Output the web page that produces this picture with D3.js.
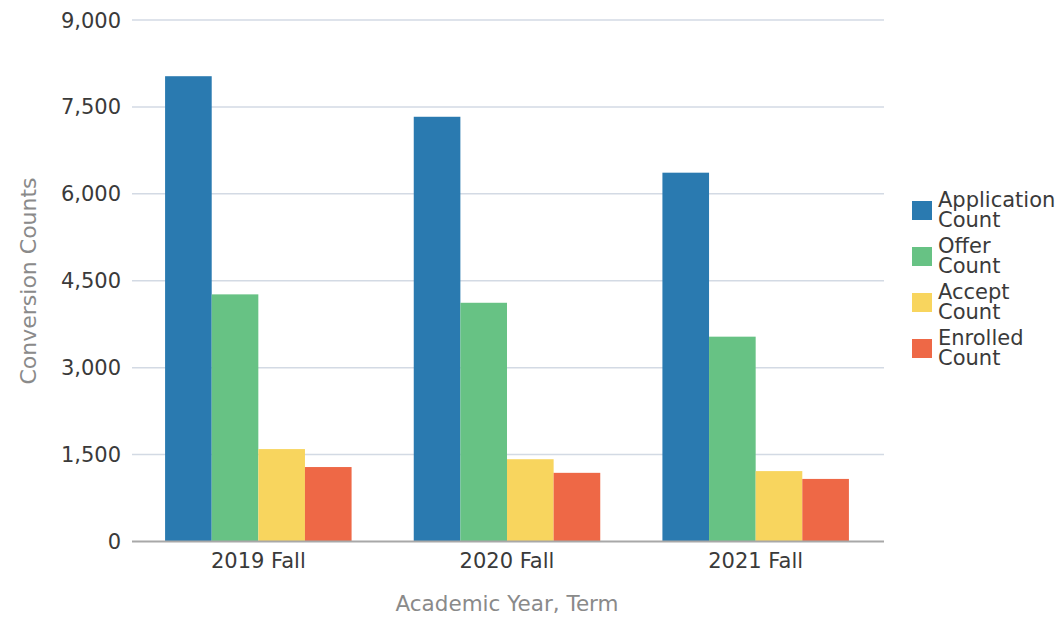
<!DOCTYPE html>
<html>
<head>
<meta charset="utf-8">
<script src="https://cdn.jsdelivr.net/npm/d3@7"></script>
<style>
  body { margin: 0; background: #fff; }
  svg { font-family: 'DejaVu Sans', sans-serif; }
</style>
</head>
<body>
<svg id="chart"></svg>
<script>
const terms = ['2019 Fall', '2020 Fall', '2021 Fall']
const seriesNames = ['Application Count', 'Offer Count', 'Accept Count', 'Enrolled Count']
const applicationCount = [8030, 7330, 6365]
const offerCount = [4265, 4120, 3535]
const acceptCount = [1595, 1420, 1215]
const enrolledCount = [1285, 1185, 1080]
const yTicks = [0, 1500, 3000, 4500, 6000, 7500, 9000]
const colors = ['#2a7ab0', '#67c284', '#f8d55e', '#ee6846']

const seriesValues = [applicationCount, offerCount, acceptCount, enrolledCount]
const width = 1063
const height = 618
const plot = {left: 134, right: 880, top: 20, bottom: 541.5} // pixels

const svg = d3.select('#chart').attr('width', width).attr('height', height)

const x = d3.scaleBand().domain(terms).range([plot.left, plot.right]).paddingInner(0.25).paddingOuter(0.125)
const xInner = d3.scaleBand().domain(seriesNames).range([0, x.bandwidth()])
const y = d3.scaleLinear().domain([0, 9000]).range([plot.bottom, plot.top])

// gridlines
svg.append('g').selectAll('line').data(yTicks.slice(1)).join('line')
  .attr('x1', plot.left - 2).attr('x2', 884)
  .attr('y1', d => y(d)).attr('y2', d => y(d))
  .attr('stroke', '#d3dae4').attr('stroke-width', 1.5)

// y tick labels
svg.append('g').selectAll('text').data(yTicks).join('text')
  .attr('x', 121).attr('y', d => y(d))
  .attr('dy', '0.36em')
  .attr('text-anchor', 'end')
  .attr('font-size', 21).attr('fill', '#3a3a3a')
  .text(d => d3.format(',')(d))

// bars
const groups = svg.append('g').selectAll('g').data(terms).join('g')
  .attr('transform', d => `translate(${x(d)},0)`)

groups.selectAll('rect')
  .data((term, i) => seriesNames.map((name, s) => ({name, s, value: seriesValues[s][i]})))
  .join('rect')
  .attr('x', d => xInner(d.name))
  .attr('width', xInner.bandwidth())
  .attr('y', d => y(d.value))
  .attr('height', d => y(0) - y(d.value))
  .attr('fill', d => colors[d.s])

// x axis line
svg.append('line')
  .attr('x1', plot.left - 2).attr('x2', 884)
  .attr('y1', plot.bottom).attr('y2', plot.bottom)
  .attr('stroke', '#a8a8a8').attr('stroke-width', 2)

// x tick labels
svg.append('g').selectAll('text').data(terms).join('text')
  .attr('x', d => x(d) + x.bandwidth() / 2).attr('y', 568)
  .attr('text-anchor', 'middle')
  .attr('font-size', 21).attr('fill', '#3a3a3a')
  .text(d => d)

// axis titles
svg.append('text')
  .attr('x', 507).attr('y', 611)
  .attr('text-anchor', 'middle')
  .attr('font-size', 21.5).attr('fill', '#8a8a8a')
  .text('Academic Year, Term')

svg.append('text')
  .attr('transform', 'translate(36,281) rotate(-90)')
  .attr('text-anchor', 'middle')
  .attr('font-size', 22).attr('fill', '#8a8a8a')
  .text('Conversion Counts')

// legend
const legend = svg.append('g').selectAll('g').data(seriesNames).join('g')
  .attr('transform', (d, i) => `translate(912,${201 + i * 46})`)

legend.append('rect')
  .attr('width', 20).attr('height', 19)
  .attr('fill', (d, i) => colors[i])

legend.append('text')
  .attr('x', 26).attr('y', 6)
  .attr('font-size', 21).attr('fill', '#3a3a3a')
  .selectAll('tspan')
  .data(d => d.split(' '))
  .join('tspan')
  .attr('x', 26)
  .attr('dy', (d, i) => i === 0 ? 0 : 20)
  .text(d => d)
</script>
</body>
</html>
